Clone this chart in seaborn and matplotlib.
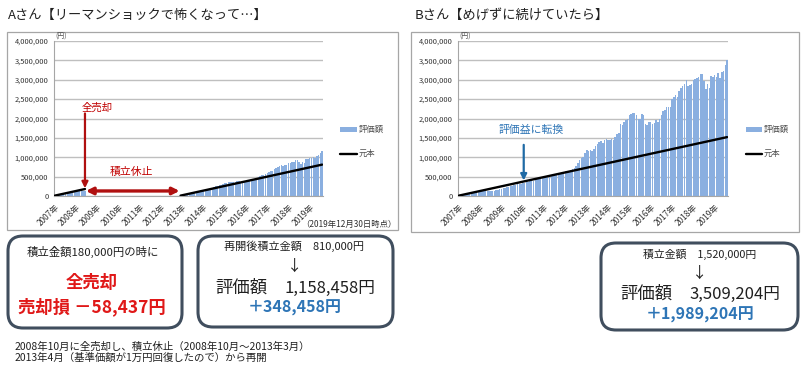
import numpy as np
import pandas as pd
import matplotlib
matplotlib.use('Agg')
import matplotlib.pyplot as plt
import seaborn as sns
from matplotlib.patches import Rectangle, FancyBboxPatch, Patch
from matplotlib.lines import Line2D
from matplotlib.ticker import FuncFormatter

sns.set_style('white')
plt.rcParams['font.family'] = ['Noto Sans CJK JP', 'DejaVu Sans']

# ---------------- data ----------------
UNIT = 1000  # values below are in thousand yen
months = list(range(152))
year_ticks = [0, 12, 24, 36, 48, 60, 72, 84, 96, 108, 120, 132, 144]
year_labels = ['2007年', '2008年', '2009年', '2010年', '2011年', '2012年', '2013年',
               '2014年', '2015年', '2016年', '2017年', '2018年', '2019年']

# B: monthly valuation (thousand yen)
b_value_k = [
    10, 20, 30, 39, 49, 58, 66, 74, 82, 90, 97, 104,
    110, 117, 120, 126, 128, 122, 118, 128, 140, 150, 162, 175,
    190, 205, 215, 228, 240, 250, 262, 275, 290, 300, 312, 322,
    335, 348, 360, 372, 380, 395, 400, 412, 428, 440, 448, 455,
    470, 480, 490, 500, 505, 520, 540, 555, 560, 575, 600, 620,
    640, 650, 640, 660, 700, 720, 780, 850, 930, 980, 1010, 1100,
    1200, 1150, 1180, 1150, 1220, 1280, 1350, 1400, 1420, 1380, 1450, 1460,
    1440, 1450, 1470, 1450, 1530, 1600, 1620, 1850, 1820, 1900, 1960, 2000,
    2080, 2120, 2150, 2130, 2090, 2000, 1980, 2120, 2080, 1850, 1820, 1900,
    1920, 1860, 1880, 1950, 1920, 2000, 2100, 2200, 2220, 2300, 2290, 2300,
    2500, 2560, 2600, 2560, 2720, 2780, 2850, 2900, 3000, 2850, 2870, 2880,
    3000, 3020, 3050, 3060, 3150, 3160, 2980, 2750, 2900, 2800, 3100, 3060,
    3120, 3080, 3180, 3050, 3200, 3220, 3380, 3509.204,
]
# A: monthly valuation (thousand yen), 0 while sold out / paused
a_value_k = [
    10, 20, 30, 39, 49, 58, 66, 74, 82, 90, 97, 104,
    110, 117, 120, 126, 128, 121.563, 0, 0, 0, 0, 0, 0,
    0, 0, 0, 0, 0, 0, 0, 0, 0, 0, 0, 0,
    0, 0, 0, 0, 0, 0, 0, 0, 0, 0, 0, 0,
    0, 0, 0, 0, 0, 0, 0, 0, 0, 0, 0, 0,
    0, 0, 0, 0, 0, 0, 0, 0, 0, 0, 0, 10,
    21, 30, 41, 50, 62, 73, 85, 96, 107, 113, 125, 136,
    145, 156, 168, 176, 193, 208, 220, 255, 260, 280, 295, 310,
    330, 345, 360, 365, 365, 355, 360, 390, 390, 355, 355, 375,
    385, 380, 390, 410, 410, 435, 465, 495, 510, 535, 540, 555,
    600, 625, 645, 645, 690, 715, 745, 765, 800, 775, 790, 800,
    840, 855, 875, 885, 920, 935, 890, 830, 880, 860, 955, 950,
    975, 970, 1010, 980, 1035, 1050, 1110, 1158.458,
]
# principal (元本) lines
b_principal_months = [0, 151]
b_principal = [10000, 1520000]
a_principal_months_1 = [0, 17]
a_principal_1 = [10000, 180000]
a_principal_months_2 = [71, 151]
a_principal_2 = [10000, 810000]
sell_month = 17
resume_month = 71

BAR = '#8aafe0'
GRID = '#bfbfbf'
AXC = '#a6a6a6'

fig = plt.figure(figsize=(8.07, 3.74), dpi=100)
fig.patch.set_facecolor('white')

W, H = 807.0, 374.0


def px_axes(left, top, right, bottom):
    return fig.add_axes([left / W, 1 - bottom / H, (right - left) / W, (bottom - top) / H])


def draw_chart(ax, values_k, segments):
    df = pd.DataFrame({'month': months, 'value': np.array(values_k) * UNIT})
    sns.barplot(data=df, x='month', y='value', native_scale=True, color=BAR,
                width=0.84, linewidth=0, saturation=1, errorbar=None, ax=ax, zorder=2)
    for mx, my in segments:
        sns.lineplot(x=mx, y=my, color='black', lw=1.7, ax=ax, zorder=3)
    ax.set_xlim(-0.5, 151.5)
    ax.set_ylim(0, 4000000)
    ax.set_yticks(np.arange(0, 4000001, 500000))
    ax.yaxis.set_major_formatter(FuncFormatter(lambda v, p: f'{v:,.0f}'))
    ax.set_xticks(year_ticks)
    ax.set_xticklabels(year_labels, rotation=45, ha='right', rotation_mode='anchor')
    ax.set_xlabel('')
    ax.set_ylabel('')
    ax.set_axisbelow(True)
    ax.yaxis.grid(True, color=GRID, lw=1.0)
    ax.xaxis.grid(False)
    for s in ['top', 'right']:
        ax.spines[s].set_visible(False)
    for s in ['left', 'bottom']:
        ax.spines[s].set_color(AXC)
        ax.spines[s].set_linewidth(0.8)
    ax.tick_params(axis='y', length=0, pad=4, labelsize=5.4, labelcolor='#333333')
    ax.tick_params(axis='x', length=2.5, width=0.6, color=AXC, pad=2,
                   labelsize=6, labelcolor='#333333')
    ax.patch.set_alpha(0)
    handles = [Patch(facecolor=BAR, edgecolor='none'),
               Line2D([], [], color='black', lw=1.7)]
    ax.legend(handles, ['評価額', '元本'], loc='center left', bbox_to_anchor=(1.065, 0.35),
              frameon=False, fontsize=6, handlelength=2.0, handleheight=0.5,
              labelspacing=1.8, handletextpad=0.2, borderaxespad=0, borderpad=0,
              labelcolor='#505050')


axA = px_axes(54, 41, 323, 196)
draw_chart(axA, a_value_k, [(a_principal_months_1, a_principal_1),
                            (a_principal_months_2, a_principal_2)])
axB = px_axes(458, 41, 728, 196)
draw_chart(axB, b_value_k, [(b_principal_months, b_principal)])

# chart A annotations
RED_D = '#b01010'
axA.annotate('', xy=(sell_month, 200000), xytext=(sell_month, 2130000),
             arrowprops=dict(arrowstyle='-|>', color=RED_D, lw=1.6, shrinkA=0, shrinkB=0,
                             mutation_scale=9))
axA.text(sell_month + 7, 2270000, '全売却', color='#c00000', fontsize=7.5,
         ha='center', va='center')
axA.annotate('', xy=(sell_month + 0.5, 130000), xytext=(resume_month - 0.5, 130000),
             arrowprops=dict(arrowstyle='<|-|>', color=RED_D, lw=2.4, shrinkA=0, shrinkB=0,
                             mutation_scale=10))
axA.text(43, 620000, '積立休止', color='#c00000', fontsize=7.8, ha='center', va='center')

# chart B annotations
BLUE = '#2e75b6'
axB.text(41, 1700000, '評価益に転換', color=BLUE, fontsize=7.8, ha='center', va='center')
axB.annotate('', xy=(36.5, 400000), xytext=(36.5, 1320000),
             arrowprops=dict(arrowstyle='-|>', color='#1f6aa5', lw=1.6, shrinkA=0, shrinkB=0,
                             mutation_scale=9))

# overlay in pixel coordinates
ov = fig.add_axes([0, 0, 1, 1])
ov.set_xlim(0, W)
ov.set_ylim(H, 0)
ov.axis('off')
ov.patch.set_alpha(0)

ov.text(8, 15, 'Aさん【リーマンショックで怖くなって…】', fontsize=9.5, ha='left', va='center',
        color='#202020')
ov.text(415, 15, 'Bさん【めげずに続けていたら】', fontsize=9.5, ha='left', va='center',
        color='#202020')

ov.add_patch(Rectangle((7, 32), 391, 198, fill=False, ec=AXC, lw=0.9))
ov.add_patch(Rectangle((411, 32), 388, 200, fill=False, ec=AXC, lw=0.9))

ov.text(61, 37, '(円)', fontsize=5, ha='center', va='center', color='#505050')
ov.text(465, 37, '(円)', fontsize=5, ha='center', va='center', color='#505050')
ov.text(397, 224, '（2019年12月30日時点）', fontsize=6, ha='right', va='center', color='#303030')

BORDER = '#404e5e'
for (x, y, w, h) in [(8, 236, 174, 92), (198, 236, 195, 91), (601, 243, 197, 87)]:
    ov.add_patch(FancyBboxPatch((x, y), w, h, boxstyle='round,pad=0,rounding_size=15',
                                fc='white', ec=BORDER, lw=2.2))

# box 1
ov.text(93, 252, '積立金額180,000円の時に', fontsize=8.2, ha='center', va='center', color='#202020')
ov.text(92, 283, '全売却', fontsize=12.5, fontweight='bold', ha='center', va='center',
        color='#e01818')
ov.text(92, 307, '売却損 －58,437円', fontsize=12.5, fontweight='bold', ha='center',
        va='center', color='#e01818')
# box 2
ov.text(294, 246, '再開後積立金額　810,000円', fontsize=8, ha='center', va='center', color='#202020')
ov.text(295, 266, '↓', fontsize=11, ha='center', va='center', color='#202020')
ov.text(241, 288, '評価額', fontsize=12.5, ha='center', va='center', color='#202020')
ov.text(330, 288, '1,158,458円', fontsize=12, ha='center', va='center', color='#202020')
ov.text(295, 308, '＋348,458円', fontsize=11.5, fontweight='bold', ha='center', va='center',
        color=BLUE)
# box 3
ov.text(700, 254, '積立金額　1,520,000円', fontsize=7.8, ha='center', va='center', color='#202020')
ov.text(700, 273, '↓', fontsize=11, ha='center', va='center', color='#202020')
ov.text(646, 294, '評価額', fontsize=12.5, ha='center', va='center', color='#202020')
ov.text(735, 294, '3,509,204円', fontsize=12, ha='center', va='center', color='#202020')
ov.text(700, 315, '＋1,989,204円', fontsize=11.5, fontweight='bold', ha='center', va='center',
        color=BLUE)

# notes
ov.text(15, 347, '2008年10月に全売却し、積立休止（2008年10月～2013年3月）', fontsize=7.5,
        ha='left', va='center', color='#202020')
ov.text(15, 358, '2013年4月（基準価額が1万円回復したので）から再開', fontsize=7.5,
        ha='left', va='center', color='#202020')

fig.savefig('out.png', dpi=100)
